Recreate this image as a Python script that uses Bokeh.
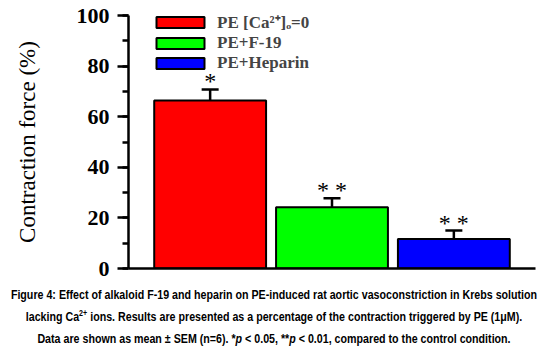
from bokeh.plotting import figure
from bokeh.layouts import column
from bokeh.models import Range1d, ColumnDataSource, Whisker, TeeHead, Legend, LegendItem, FixedTicker, Div
from bokeh.embed import file_html
from bokeh.resources import INLINE

categories = ["PE [Ca²⁺]ₒ=0", "PE+F-19", "PE+Heparin"]
values = [66.4, 24.2, 11.7]
sems = [4.4, 3.6, 3.3]
stars = ["*", "* *", "* *"]
colors = ["#ff0000", "#00ff00", "#0000ff"]
yticks = [0, 20, 40, 60, 80, 100]
yminor = [0, 10, 20, 30, 40, 50, 60, 70, 80, 90, 100]
caption = [
    "Figure 4: Effect of alkaloid F-19 and heparin on PE-induced rat aortic vasoconstriction in Krebs solution",
    "lacking Ca<sup style='font-size:9px;line-height:0'>2+</sup> ions. Results are presented as a percentage of the contraction triggered by PE (1μM).",
    "Data are shown as mean ± SEM (n=6). *<i>p</i> &lt; 0.05, **<i>p</i> &lt; 0.01, compared to the control condition.",
]

xs = list(range(1, len(categories) + 1))
src = ColumnDataSource(dict(
    x=xs, top=values, label=categories, color=colors,
    upper=[v + s for v, s in zip(values, sems)],
    lower=[v - s for v, s in zip(values, sems)],
    star=stars,
))

p = figure(width=548, height=280, output_backend="svg", toolbar_location=None,
           x_range=Range1d(0.33, 3.67), y_range=Range1d(0, 100),
           min_border_left=128, min_border_right=13, min_border_top=15, min_border_bottom=12)
p.outline_line_color = None
p.grid.visible = False

r = p.vbar(x="x", top="top", width=0.918, source=src, fill_color="color",
           line_color="black", line_width=2)

w = Whisker(base="x", upper="upper", lower="lower", source=src,
            line_color="black", line_width=2.5,
            upper_head=TeeHead(size=17, line_width=2.5, line_color="black"),
            lower_head=TeeHead(size=17, line_width=2.5, line_color="black"))
p.add_layout(w)

p.text(x="x", y="upper", text="star", source=src, text_align="center",
       text_baseline="bottom", y_offset=5, text_font_size="24px",
       text_font="Liberation Serif", text_color="black")

ya = p.yaxis[0]
ya.ticker = FixedTicker(ticks=yticks, minor_ticks=yminor)
ya.minor_tick_line_color = "black"
ya.axis_line_width = 2.5
ya.major_tick_line_width = 2.5
ya.minor_tick_line_width = 2.5
ya.major_tick_out = 11
ya.major_tick_in = 0
ya.minor_tick_out = 6
ya.minor_tick_in = 0
ya.major_label_text_font = "Liberation Serif"
ya.major_label_text_font_style = "bold"
ya.major_label_text_font_size = "22px"
ya.major_label_text_color = "black"
ya.major_label_standoff = 8
ya.axis_label = "Contraction force (%)"
ya.axis_label_text_font = "Liberation Serif"
ya.axis_label_text_font_style = "normal"
ya.axis_label_text_font_size = "23px"
ya.axis_label_text_color = "black"
ya.axis_label_standoff = 34

xa = p.xaxis[0]
xa.axis_line_width = 2.5
xa.ticker = FixedTicker(ticks=[])
xa.major_tick_line_color = None
xa.minor_tick_line_color = None
xa.major_label_text_font_size = "1px"

legend = Legend(items=[LegendItem(label=c, renderers=[r], index=i) for i, c in enumerate(categories)],
                location=(22, 195), glyph_width=60, glyph_height=14, label_height=20,
                spacing=0, padding=0, margin=0, label_standoff=7,
                label_text_font="Liberation Serif", label_text_font_style="bold",
                label_text_font_size="17px", border_line_alpha=0, background_fill_alpha=0)
p.add_layout(legend)

inner = "<br>".join(caption)
html = ("<div style=\"width:700px;margin-left:-76px;text-align:center;white-space:nowrap;"
        "transform:scaleX(0.79);transform-origin:350px 0px;\">" + inner + "</div>")
cap = Div(text=html, width=548, height=76, margin=(0, 0, 0, 0),
          styles={"font-family": "'Liberation Sans'", "font-weight": "bold",
                  "font-size": "13.5px", "line-height": "22px", "color": "black",
                  "padding-top": "4px"})

open("out.html", "w").write(file_html(column(p, cap, spacing=0), INLINE))
